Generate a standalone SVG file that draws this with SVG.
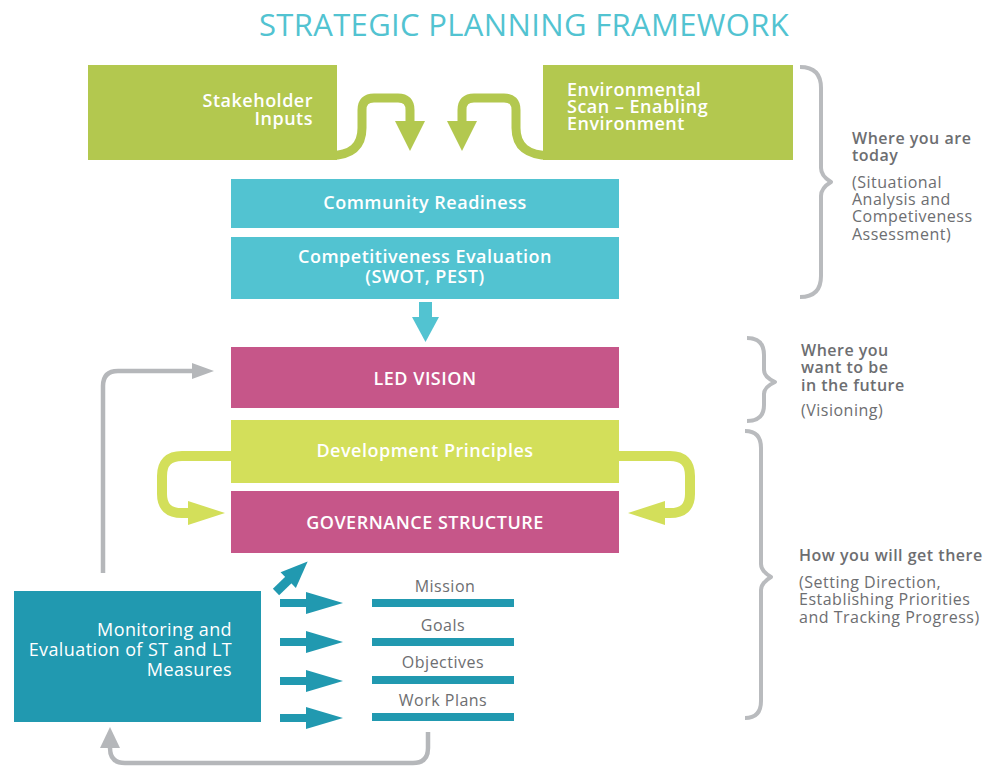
<svg xmlns="http://www.w3.org/2000/svg" width="985" height="768" viewBox="0 0 985 768">
  <defs>
    <style>
      .title { font-family: "Open Sans", "Liberation Sans", sans-serif; font-size: 31px; letter-spacing: 0.35px; fill: #52c3d1; }
      .box-label { font-family: "Open Sans", "Liberation Sans", sans-serif; font-size: 18px; font-weight: 600; letter-spacing: 0.5px; fill: #ffffff; }
      .mon-label { font-family: "Open Sans", "Liberation Sans", sans-serif; font-size: 18px; letter-spacing: 0.4px; fill: #ffffff; }
      .item-label { font-family: "Open Sans", "Liberation Sans", sans-serif; font-size: 16px; letter-spacing: 0.5px; fill: #6d6e71; text-anchor: middle; }
      .side-head { font-family: "Open Sans", "Liberation Sans", sans-serif; font-size: 16px; font-weight: 600; letter-spacing: 0.5px; fill: #6d6e71; }
      .side-note { font-family: "Open Sans", "Liberation Sans", sans-serif; font-size: 16px; letter-spacing: 0.5px; fill: #6d6e71; }
      .green { fill: #b3c84f; }
      .cyan { fill: #52c3d1; }
      .pink { fill: #c65689; }
      .lime { fill: #d3df5a; }
      .teal { fill: #2199b0; }
      .grey-line { fill: none; stroke: #b5b7ba; stroke-width: 4.5; }
      .brace { fill: none; stroke: #b9bbbe; stroke-width: 4; stroke-linejoin: round; }
      .green-loop { fill: none; stroke: #b3c84f; stroke-width: 9; }
      .lime-loop { fill: none; stroke: #d3df5a; stroke-width: 10; }
    </style>
  </defs>

  <rect width="985" height="768" fill="#ffffff"/>

  <text class="title" x="524" y="36" text-anchor="middle">STRATEGIC PLANNING FRAMEWORK</text>

  <!-- connectors -->
  <g id="connectors">
    <!-- stakeholder inputs feed -->
    <path class="green-loop" d="M 330 155.5 Q 362 155.5 362 128 V 110 Q 362 98 374 98 H 398 Q 410 98 410 110 V 124"/>
    <polygon class="green" points="395,121 425,121 410,151"/>
    <!-- environmental scan feed -->
    <path class="green-loop" d="M 550 155.5 Q 516 155.5 516 128 V 110 Q 516 98 504 98 H 474 Q 462 98 462 110 V 124"/>
    <polygon class="green" points="447,121 477,121 462,151"/>

    <!-- evaluation to vision -->
    <rect class="cyan" x="419" y="302" width="13" height="17"/>
    <polygon class="cyan" points="412,317 439,317 425.5,342"/>

    <!-- development principles loops -->
    <path class="lime-loop" d="M 232 456 H 182 Q 162 456 162 476 V 494 Q 162 513 182 513 H 192"/>
    <polygon class="lime" points="188,501 225,513 188,525"/>
    <path class="lime-loop" d="M 618 456 H 670 Q 690 456 690 476 V 494 Q 690 513 670 513 H 662"/>
    <polygon class="lime" points="665,501 628,513 665,525"/>

    <!-- feedback to vision -->
    <path class="grey-line" d="M 103 573 V 386 Q 103 371 118 371 H 195"/>
    <polygon fill="#b5b7ba" points="192,363 214,371 192,379"/>

    <!-- feedback from work plans -->
    <path class="grey-line" d="M 428 732 V 748 Q 428 763 413 763 H 125 Q 110 763 110 748 V 744"/>
    <polygon fill="#b5b7ba" points="100,748 110,727 120,748"/>

    <!-- monitoring arrows -->
    <g class="teal">
      <g transform="translate(276,592) rotate(-44)">
        <rect x="0" y="-4.5" width="19" height="9"/>
        <polygon points="17,-11 44,0 17,11"/>
      </g>
      <g transform="translate(280,603)">
        <rect x="0" y="-4" width="28" height="8"/>
        <polygon points="26,-11 63,0 26,11"/>
      </g>
      <g transform="translate(280,642)">
        <rect x="0" y="-4" width="28" height="8"/>
        <polygon points="26,-11 63,0 26,11"/>
      </g>
      <g transform="translate(280,681)">
        <rect x="0" y="-4" width="28" height="8"/>
        <polygon points="26,-11 63,0 26,11"/>
      </g>
      <g transform="translate(280,718)">
        <rect x="0" y="-4" width="28" height="8"/>
        <polygon points="26,-11 63,0 26,11"/>
      </g>
    </g>
  </g>

  <!-- nodes -->
  <g id="stakeholder-inputs">
    <rect class="green" x="88" y="65" width="249" height="95"/>
    <text class="box-label" text-anchor="end"><tspan x="313" y="107">Stakeholder</tspan><tspan x="313" y="125">Inputs</tspan></text>
  </g>

  <g id="environmental-scan">
    <rect class="green" x="543" y="65" width="250" height="95"/>
    <text class="box-label"><tspan x="567" y="96">Environmental</tspan><tspan x="567" y="113">Scan – Enabling</tspan><tspan x="567" y="130">Environment</tspan></text>
  </g>

  <g id="community-readiness">
    <rect class="cyan" x="231" y="179" width="388" height="49"/>
    <text class="box-label" x="425" y="209" text-anchor="middle">Community Readiness</text>
  </g>

  <g id="competitiveness-evaluation">
    <rect class="cyan" x="231" y="237" width="388" height="62"/>
    <text class="box-label" text-anchor="middle"><tspan x="425" y="263">Competitiveness Evaluation</tspan><tspan x="425" y="283">(SWOT, PEST)</tspan></text>
  </g>

  <g id="led-vision">
    <rect class="pink" x="231" y="347" width="388" height="61"/>
    <text class="box-label" x="425" y="385" text-anchor="middle">LED VISION</text>
  </g>

  <g id="development-principles">
    <rect class="lime" x="231" y="420" width="388" height="63"/>
    <text class="box-label" x="425" y="457" text-anchor="middle">Development Principles</text>
  </g>

  <g id="governance-structure">
    <rect class="pink" x="231" y="491" width="388" height="62"/>
    <text class="box-label" x="425" y="529" text-anchor="middle">GOVERNANCE STRUCTURE</text>
  </g>

  <g id="monitoring-evaluation">
    <rect class="teal" x="14" y="591" width="247" height="131"/>
    <text class="mon-label" text-anchor="end"><tspan x="232" y="636">Monitoring and</tspan><tspan x="232" y="656">Evaluation of ST and LT</tspan><tspan x="232" y="676">Measures</tspan></text>
  </g>

  <g id="mission">
    <rect class="teal" x="372" y="599" width="142" height="8"/>
    <text class="item-label" x="445" y="592">Mission</text>
  </g>
  <g id="goals">
    <rect class="teal" x="372" y="638" width="142" height="8"/>
    <text class="item-label" x="443" y="631">Goals</text>
  </g>
  <g id="objectives">
    <rect class="teal" x="372" y="676" width="142" height="8"/>
    <text class="item-label" x="443" y="668">Objectives</text>
  </g>
  <g id="work-plans">
    <rect class="teal" x="372" y="713" width="142" height="8"/>
    <text class="item-label" x="443" y="706">Work Plans</text>
  </g>

  <!-- stage braces and notes -->
  <g id="stage-today">
    <path class="brace" d="M 800 67 Q 821 67 821 88 V 168 Q 821 176 831 182 Q 821 188 821 196 V 276 Q 821 297 800 297"/>
    <text class="side-head"><tspan x="852" y="144">Where you are</tspan><tspan x="852" y="161">today</tspan></text>
    <text class="side-note"><tspan x="852" y="188">(Situational</tspan><tspan x="852" y="205">Analysis and</tspan><tspan x="852" y="222">Competiveness</tspan><tspan x="852" y="240">Assessment)</tspan></text>
  </g>

  <g id="stage-future">
    <path class="brace" d="M 747 338 Q 764 338 764 355 V 370 Q 764 377 775 382 Q 764 387 764 394 V 405 Q 764 421 747 421"/>
    <text class="side-head"><tspan x="801" y="356">Where you</tspan><tspan x="801" y="373">want to be</tspan><tspan x="801" y="391">in the future</tspan></text>
    <text class="side-note" x="801" y="416">(Visioning)</text>
  </g>

  <g id="stage-get-there">
    <path class="brace" d="M 745 431 Q 761 431 761 448 V 564 Q 761 571 771 577 Q 761 583 761 590 V 701 Q 761 718 745 718"/>
    <text class="side-head" x="799" y="561">How you will get there</text>
    <text class="side-note"><tspan x="799" y="588">(Setting Direction,</tspan><tspan x="799" y="605">Establishing Priorities</tspan><tspan x="799" y="623">and Tracking Progress)</tspan></text>
  </g>
</svg>
